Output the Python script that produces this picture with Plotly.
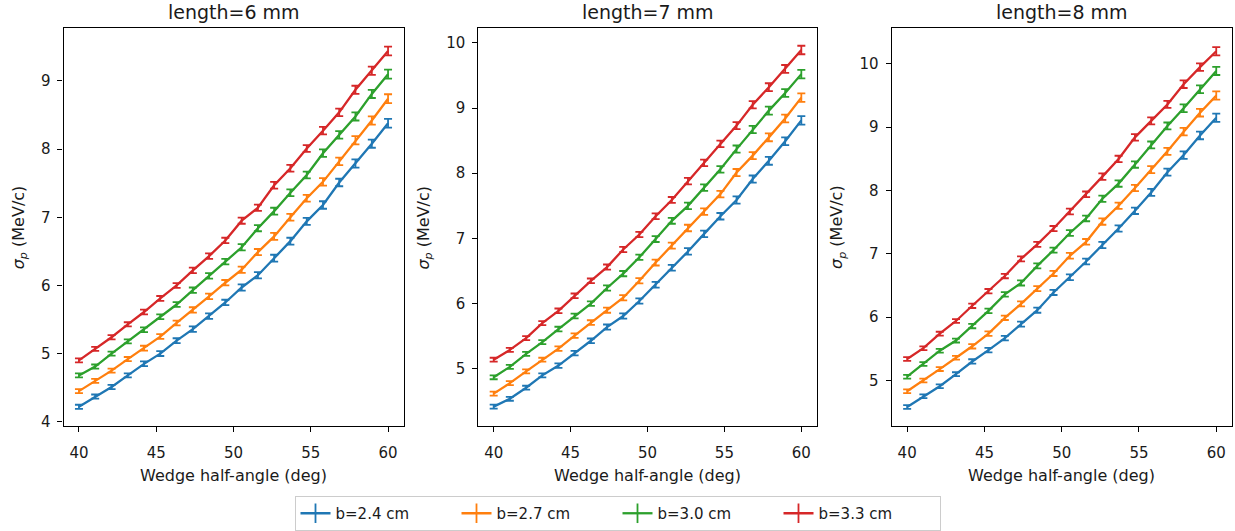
import plotly.graph_objects as go

# ---------------- data ----------------
angles = [40.0, 41.05, 42.11, 43.16, 44.21, 45.26, 46.32, 47.37, 48.42, 49.47,
          50.53, 51.58, 52.63, 53.68, 54.74, 55.79, 56.84, 57.89, 58.95, 60.0]

series_labels = ["b=2.4 cm", "b=2.7 cm", "b=3.0 cm", "b=3.3 cm"]
panel_titles = ["length=6 mm", "length=7 mm", "length=8 mm"]

len6_b24 = [4.22, 4.37, 4.51, 4.68, 4.85, 5.00, 5.19, 5.36, 5.55, 5.75, 5.97, 6.15, 6.40, 6.65, 6.94, 7.18, 7.51, 7.79, 8.08, 8.38]
len6_b27 = [4.45, 4.60, 4.75, 4.92, 5.08, 5.25, 5.45, 5.64, 5.84, 6.04, 6.23, 6.49, 6.72, 7.00, 7.28, 7.52, 7.82, 8.13, 8.42, 8.74]
len6_b30 = [4.68, 4.81, 5.00, 5.18, 5.35, 5.54, 5.72, 5.93, 6.14, 6.35, 6.56, 6.84, 7.09, 7.36, 7.62, 7.94, 8.21, 8.48, 8.81, 9.10]
len6_b33 = [4.90, 5.07, 5.24, 5.43, 5.61, 5.81, 6.00, 6.22, 6.43, 6.66, 6.95, 7.14, 7.47, 7.72, 8.01, 8.27, 8.54, 8.87, 9.15, 9.44]

len7_b24 = [4.42, 4.54, 4.71, 4.90, 5.05, 5.24, 5.43, 5.64, 5.81, 6.04, 6.29, 6.55, 6.80, 7.07, 7.34, 7.59, 7.91, 8.19, 8.49, 8.81]
len7_b27 = [4.62, 4.78, 4.96, 5.14, 5.31, 5.51, 5.71, 5.90, 6.09, 6.35, 6.63, 6.89, 7.16, 7.41, 7.68, 8.01, 8.27, 8.55, 8.84, 9.16]
len7_b30 = [4.87, 5.03, 5.23, 5.41, 5.61, 5.81, 6.00, 6.24, 6.46, 6.71, 6.99, 7.27, 7.50, 7.78, 8.06, 8.37, 8.67, 8.96, 9.23, 9.52]
len7_b33 = [5.14, 5.29, 5.47, 5.70, 5.89, 6.12, 6.35, 6.56, 6.83, 7.06, 7.34, 7.59, 7.88, 8.16, 8.45, 8.73, 9.05, 9.32, 9.60, 9.89]

len8_b24 = [4.58, 4.75, 4.91, 5.10, 5.30, 5.48, 5.67, 5.89, 6.11, 6.39, 6.63, 6.88, 7.14, 7.40, 7.68, 7.97, 8.29, 8.56, 8.87, 9.15]
len8_b27 = [4.83, 5.00, 5.18, 5.36, 5.54, 5.74, 5.99, 6.21, 6.45, 6.69, 6.97, 7.19, 7.51, 7.76, 8.04, 8.33, 8.62, 8.93, 9.23, 9.50]
len8_b30 = [5.06, 5.26, 5.47, 5.63, 5.86, 6.10, 6.36, 6.54, 6.81, 7.06, 7.33, 7.56, 7.87, 8.11, 8.41, 8.72, 9.02, 9.30, 9.60, 9.89]
len8_b33 = [5.34, 5.51, 5.74, 5.94, 6.18, 6.41, 6.65, 6.92, 7.15, 7.40, 7.67, 7.94, 8.22, 8.50, 8.84, 9.10, 9.36, 9.68, 9.95, 10.20]

err_values = [0.03, 0.03, 0.03, 0.03, 0.035, 0.035, 0.035, 0.04, 0.04, 0.04,
              0.045, 0.045, 0.05, 0.05, 0.05, 0.055, 0.055, 0.06, 0.06, 0.065]

x_ticks = [40, 45, 50, 55, 60]
y_ticks_6 = [4, 5, 6, 7, 8, 9]
y_ticks_7 = [5, 6, 7, 8, 9, 10]
y_ticks_8 = [5, 6, 7, 8, 9, 10]

panels = [
    [len6_b24, len6_b27, len6_b30, len6_b33],
    [len7_b24, len7_b27, len7_b30, len7_b33],
    [len8_b24, len8_b27, len8_b30, len8_b33],
]
panel_yticks = [y_ticks_6, y_ticks_7, y_ticks_8]

# ---------------- styling ----------------
W, H = 1235, 531
colors = ["#1f77b4", "#ff7f0e", "#2ca02c", "#d62728"]
FONT = "DejaVu Sans"
TXT = "#1a1a1a"
x_px = [(63.5, 403.5), (478.3, 816.7), (891.7, 1231.7)]
y_px = (28.7, 429.3)
y_ranges = [[3.937, 9.77], [4.122, 10.22], [4.28, 10.56]]
ylabel_offsets = [44.5, 54.0, 54.0]

fig = go.Figure()

for p, series in enumerate(panels):
    xa = "x" if p == 0 else f"x{p+1}"
    ya = "y" if p == 0 else f"y{p+1}"
    for s, vals in enumerate(series):
        fig.add_trace(go.Scatter(
            x=angles, y=vals, mode="lines",
            line=dict(color=colors[s], width=2.3),
            error_y=dict(type="data", array=err_values, visible=True,
                         color=colors[s], thickness=1.8, width=4),
            xaxis=xa, yaxis=ya, showlegend=False, hoverinfo="skip",
        ))

# legend proxies
for s, lab in enumerate(series_labels):
    fig.add_trace(go.Scatter(
        x=[None], y=[None], mode="lines+markers", name=lab,
        line=dict(color=colors[s], width=2.3),
        marker=dict(symbol="line-ns", size=14, color=colors[s],
                    line=dict(color=colors[s], width=1.8)),
        showlegend=True,
    ))

layout = dict(
    width=W, height=H,
    margin=dict(l=0, r=0, t=0, b=0),
    paper_bgcolor="white", plot_bgcolor="white",
    font=dict(family=FONT, size=15, color=TXT),
    showlegend=True,
    legend=dict(orientation="h", x=0.5, xanchor="center",
                y=1 - 500 / H, yanchor="top",
                bordercolor="#cccccc", borderwidth=1,
                font=dict(family=FONT, size=15, color=TXT),
                entrywidth=116, entrywidthmode="pixels",
                itemclick=False, itemdoubleclick=False),
)

annotations = []
for p in range(3):
    suffix = "" if p == 0 else str(p + 1)
    x0, x1 = x_px[p]
    dom_x = [x0 / W, x1 / W]
    dom_y = [1 - y_px[1] / H, 1 - y_px[0] / H]
    common = dict(
        showline=True, mirror=True, linecolor="black", linewidth=1.1,
        ticks="outside", ticklen=5, tickwidth=1.1, tickcolor="black",
        showgrid=False, zeroline=False,
        tickfont=dict(family=FONT, size=15, color=TXT),
    )
    layout["xaxis" + suffix] = dict(
        domain=dom_x, range=[39, 61], tickvals=x_ticks,
        anchor="y" + suffix, ticklabelstandoff=8, **common)
    layout["yaxis" + suffix] = dict(
        domain=dom_y, range=y_ranges[p], tickvals=panel_yticks[p],
        anchor="x" + suffix, ticklabelstandoff=4, **common)
    cx = (x0 + x1) / 2 / W
    annotations.append(dict(
        text=panel_titles[p], xref="paper", yref="paper",
        x=cx, y=1 - 12.5 / H, xanchor="center", yanchor="middle",
        showarrow=False, font=dict(family=FONT, size=19, color=TXT)))
    annotations.append(dict(
        text="Wedge half-angle (deg)", xref="paper", yref="paper",
        x=cx, y=1 - 479 / H, xanchor="center", yanchor="middle",
        showarrow=False, font=dict(family=FONT, size=16, color=TXT)))
    annotations.append(dict(
        text="<i>σ</i><sub><i>p</i></sub> (MeV/c)", xref="paper", yref="paper",
        x=(x0 - ylabel_offsets[p]) / W, y=(dom_y[0] + dom_y[1]) / 2,
        xanchor="center", yanchor="middle", textangle=-90,
        showarrow=False, font=dict(family=FONT, size=16, color=TXT)))

layout["annotations"] = annotations
fig.update_layout(**layout)

fig.write_html("out.html")
